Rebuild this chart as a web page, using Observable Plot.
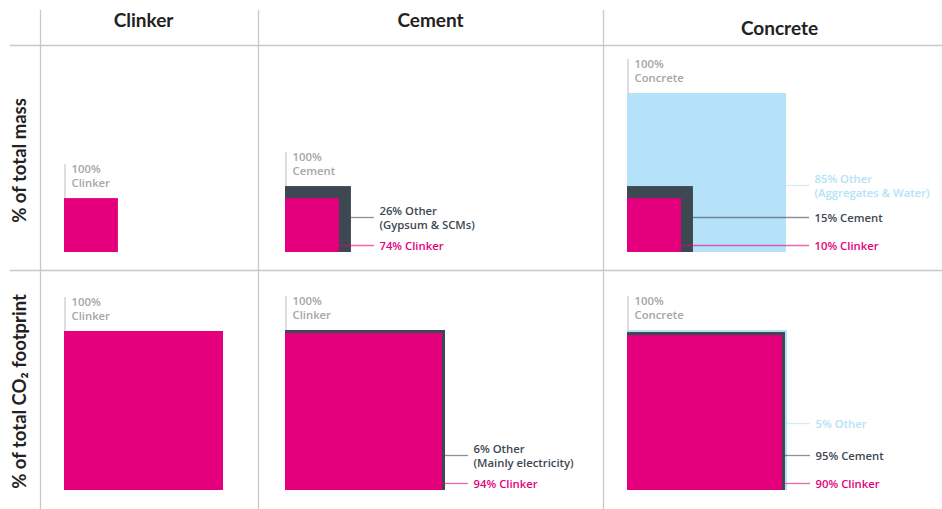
<!DOCTYPE html>
<html><head><meta charset="utf-8">
<script src="https://cdn.jsdelivr.net/npm/d3@7"></script>
<script src="https://cdn.jsdelivr.net/npm/@observablehq/plot@0.6"></script>
<style>body{margin:0;background:#fff;}#chart{width:942px;height:509px;}</style>
</head><body><div id="chart"></div>
<script>
// ---- data ----
const columns = ["Clinker", "Cement", "Concrete"];
const metrics = ["mass", "co2"];
const metricTitles = ["% of total mass", "% of total CO₂ footprint"];
// word under the "100%" tag of each panel, per metric
const totalNames = [["Clinker", "Cement", "Concrete"], ["Clinker", "Clinker", "Concrete"]];

// nested squares (outer -> inner); area relative to the 100% concrete-mass square
const sqMetric   = ["mass","mass","mass","mass","mass","mass","co2","co2","co2","co2","co2","co2"];
const sqColumn   = ["Clinker","Cement","Cement","Concrete","Concrete","Concrete","Clinker","Cement","Cement","Concrete","Concrete","Concrete"];
const sqMaterial = ["Clinker","Cement","Clinker","Concrete","Cement","Clinker","Clinker","Cement","Clinker","Concrete","Cement","Clinker"];
const sqArea     = [0.115, 0.172, 0.115, 1, 0.172, 0.115, 1, 1.013, 0.975, 1.013, 0.987, 0.95];

// right-hand annotations
const lbMetric   = ["mass","mass","mass","mass","mass","co2","co2","co2","co2","co2"];
const lbColumn   = ["Cement","Cement","Concrete","Concrete","Concrete","Cement","Cement","Concrete","Concrete","Concrete"];
const lbMaterial = ["Cement","Clinker","Concrete","Cement","Clinker","Cement","Clinker","Concrete","Cement","Clinker"];
const lbText     = ["26% Other\n(Gypsum & SCMs)", "74% Clinker", "85% Other\n(Aggregates & Water)", "15% Cement", "10% Clinker",
                    "6% Other\n(Mainly electricity)", "94% Clinker", "5% Other", "95% Cement", "90% Clinker"];

// ---- layout & style ----
const W = 942, H = 509, UNIT = 159;
const colLeft   = {Clinker: 64, Cement: 285, Concrete: 627};
const colCenter = {Clinker: 143, Cement: 430, Concrete: 779};
const headerY   = {Clinker: 20, Cement: 20, Concrete: 28};
const rowBottom = {mass: 252, co2: 490};
const rowCenter = {mass: 160, co2: 391};
const materialOrder = ["Clinker", "Cement", "Concrete"];
const colors = {Clinker: "#e4007c", Cement: "#3d4852", Concrete: "#b5e2f8"};
const titleFont = "Lato, 'Open Sans', sans-serif";
const smallFont = "'Open Sans', Lato, sans-serif";

const squares = sqArea.map((a, i) => {
  const side = Math.sqrt(a) * UNIT;
  const x1 = colLeft[sqColumn[i]], y2 = rowBottom[sqMetric[i]];
  return {metric: sqMetric[i], column: sqColumn[i], material: sqMaterial[i], x1, x2: x1 + side, y1: y2 - side, y2};
});
const panelKey = (m, c) => m + "|" + c;
const outer = new Map();
for (const s of squares) { const k = panelKey(s.metric, s.column); if (!outer.has(k)) outer.set(k, s); }
const totals = [];
metrics.forEach((m, mi) => columns.forEach((c, ci) => {
  const s = outer.get(panelKey(m, c));
  if (s) totals.push({x1: s.x1, y1: s.y1, name: totalNames[mi][ci]});
}));
const labels = lbText.map((t, i) => {
  const k = panelKey(lbMetric[i], lbColumn[i]);
  const sq = squares.find(s => s.metric === lbMetric[i] && s.column === lbColumn[i] && s.material === lbMaterial[i]);
  const o = outer.get(k);
  const rank = materialOrder.indexOf(lbMaterial[i]);
  const y = rowBottom[lbMetric[i]] - [7, 35, 67][rank];
  return {text: t, color: colors[lbMaterial[i]], from: sq.x2, tx: o.x2 + 28, y};
});
const headers = columns.map(c => ({text: c, x: colCenter[c], y: headerY[c]}));
const rowTitles = metrics.map((m, i) => ({text: metricTitles[i], y: rowCenter[m]}));

const chart = Plot.plot({
  width: W, height: H, margin: 0,
  x: {domain: [0, W], range: [0, W], axis: null},
  y: {domain: [0, H], range: [0, H], axis: null},
  style: {fontFamily: titleFont, background: "#fff"},
  marks: [
    Plot.ruleX([40, 258, 603], {y1: 10, y2: H, stroke: "#c8c8c8", strokeWidth: 1.3}),
    Plot.ruleY([45, 270], {x1: 10, x2: W, stroke: "#c8c8c8", strokeWidth: 1.3}),
    Plot.rect(squares, {x1: "x1", x2: "x2", y1: "y1", y2: "y2", fill: d => colors[d.material]}),
    Plot.ruleX(totals, {x: d => d.x1 + 0.5, y1: d => d.y1 - 34, y2: d => d.y1, stroke: "#c8c8c8", strokeWidth: 1.2}),
    Plot.text(totals, {x: d => d.x1 + 7, y: d => d.y1 - 35, text: d => "100%\n" + d.name, textAnchor: "start", lineAnchor: "top",
      fill: "#a6a6a6", fontSize: 11.3, fontWeight: 600, lineHeight: 1.2, fontFamily: smallFont}),
    Plot.ruleY(labels, {y: "y", x1: "from", x2: d => d.tx - 5, stroke: "color", strokeOpacity: 0.6, strokeWidth: 1.3}),
    Plot.text(labels, {x: "tx", y: "y", text: "text", fill: "color", textAnchor: "start", lineAnchor: "middle",
      fontSize: 11.3, fontWeight: 600, lineHeight: 1.25, fontFamily: smallFont}),
    Plot.text(headers, {x: "x", y: "y", text: "text", fontSize: 19, fontWeight: 700, fill: "#222", lineAnchor: "middle"}),
    Plot.text(rowTitles, {x: 20, y: "y", text: "text", rotate: -90, fontSize: 18.5, fontWeight: 700, fill: "#222", lineAnchor: "middle"})
  ]
});
document.getElementById("chart").append(chart);
</script>
</body></html>
